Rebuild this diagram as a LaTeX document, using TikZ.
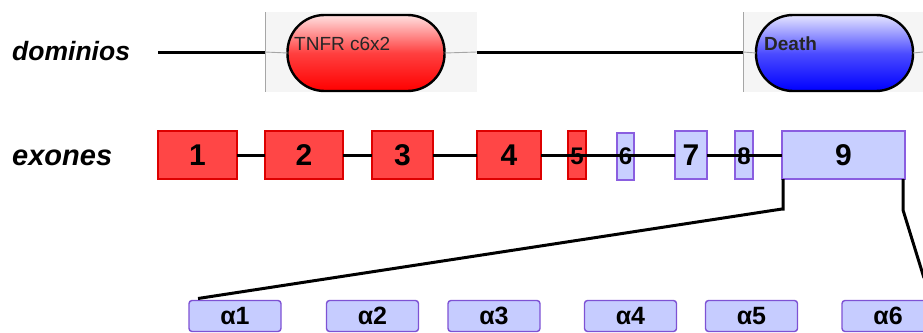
\documentclass[tikz,border=0pt]{standalone}
\usepackage{fontspec}
\setmainfont{Liberation Sans}
\usetikzlibrary{calc}
\definecolor{exred}{HTML}{FF4646}
\definecolor{exredb}{HTML}{DD0000}
\definecolor{exblue}{HTML}{C8CFFF}
\definecolor{exblueb}{HTML}{8A5EE0}
\definecolor{albox}{HTML}{C6CCFF}
\definecolor{alboxb}{HTML}{7E52D4}
\definecolor{bggray}{HTML}{F5F5F5}
\tikzset{
  rowlabel/.style={anchor=base west, inner sep=0pt, font=\bfseries\itshape},
  exonred/.style={draw=exredb, fill=exred, line width=1.6pt, inner sep=0pt, outer sep=0pt, minimum height=48pt, font=\bfseries\fontsize{30}{30}\selectfont},
  exonblue/.style={draw=exblueb, fill=exblue, line width=1.6pt, inner sep=0pt, outer sep=0pt, minimum height=48pt, font=\bfseries\fontsize{30}{30}\selectfont},
  smalldigit/.style={inner sep=0pt, font=\bfseries\fontsize{24}{24}\selectfont},
  alpha/.style={draw=alboxb, fill=albox, line width=1.4pt, rounded corners=3pt, inner sep=0pt, outer sep=0pt, minimum width=92pt, minimum height=31pt, font=\bfseries\fontsize{25}{25}\selectfont},
  pill/.style={draw=black, line width=2.4pt, rounded corners=37pt, inner sep=0pt, outer sep=0pt, minimum width=157pt, minimum height=76pt},
  pilltext/.style={anchor=west, inner sep=0pt, text=black!85, font=\fontsize{19}{19}\selectfont},
  conn/.style={draw=black, line width=3pt},
  thin/.style={draw=gray!70, line width=0.9pt},
}
\begin{document}
\begin{tikzpicture}[x=1pt,y=-1pt]
\useasboundingbox (0,0) rectangle (923,332);
% background panels of the domain row
\fill[bggray] (265,12) rectangle (477,92);
\fill[bggray] (743,12) rectangle (923,92);
\draw[gray!70, line width=1pt] (265,12) -- (265,92);
\draw[gray!70, line width=1pt] (743,12) -- (743,92);
% labels
\node[rowlabel, font=\bfseries\itshape\fontsize{26.5}{26.5}\selectfont] (ldom) at (12,60) {dominios};
\node[rowlabel, font=\bfseries\itshape\fontsize{29}{29}\selectfont] (lex) at (12,165) {exones};
% domain pills
\node[pill, top color=red!12!white, bottom color=red, middle color=red!75!white] (d1) at (366,53) {};
\node[pill, top color=blue!10!white, bottom color=blue, middle color=blue!70!white] (d2) at (834.5,53) {};
\node[pilltext] (t1) at (294,44) {TNFR c6x2};
\node[pilltext, font=\bfseries\fontsize{19}{19}\selectfont] (t2) at (764,44) {Death};
% domain row line
\coordinate (dA) at (158,52);
\coordinate (dB) at (265,52);
\coordinate (dC) at (477,52);
\coordinate (dD) at (743,52);
\coordinate (dE) at (923,52);
\draw[conn] (dA) -- (dB);
\draw[thin] (dB) -- (d1.west);
\draw[thin] (d1.east) -- (dC);
\draw[conn] (dC) -- (dD);
\draw[thin] (dD) -- (d2.west);
\draw[thin] (d2.east) -- (dE);
% exons
\node[exonred, minimum width=79pt] (e1) at (197.5,155) {1};
\node[exonred, minimum width=78pt] (e2) at (304,155) {2};
\node[exonred, minimum width=61pt] (e3) at (402.5,155) {3};
\node[exonred, minimum width=64pt] (e4) at (509,155) {4};
\node[exonred, minimum width=18pt] (e5) at (577,155) {};
\node[exonblue, minimum width=17pt, minimum height=47pt] (e6) at (625.5,156.5) {};
\node[exonblue, minimum width=32pt] (e7) at (691,155) {7};
\node[exonblue, minimum width=18pt] (e8) at (744,155) {};
\node[exonblue, minimum width=123pt] (e9) at (843.5,155) {9};
\draw[conn] (e1) -- (e2);
\draw[conn] (e2) -- (e3);
\draw[conn] (e3) -- (e4);
\draw[conn] (e4.east) -- (e7.west);
\draw[conn] (e7.east) -- (e9.west);
\node[smalldigit] (n5) at (577,156) {5};
\node[smalldigit] (n6) at (625.5,156) {6};
\node[smalldigit] (n8) at (744,156) {8};
% alpha boxes
\node[alpha] (a1) at (235,316) {α1};
\node[alpha] (a2) at (372.5,316) {α2};
\node[alpha] (a3) at (494,316) {α3};
\node[alpha] (a4) at (630.5,316) {α4};
\node[alpha] (a5) at (751.5,316) {α5};
\node[alpha] (a6) at (888,316) {α6};
% zoom bracket
\coordinate (bL) at (782,209);
\coordinate (bR) at (903,210);
\coordinate (bEnd) at (924,278);
\draw[conn, line join=miter] ([xshift=1pt]e9.south west) |- (bL) -- ($(a1.north west)+(9,-2)$);
\draw[conn, line join=miter] ([xshift=-2pt]e9.south east) -- (bR) -- (bEnd);
\end{tikzpicture}
\end{document}
